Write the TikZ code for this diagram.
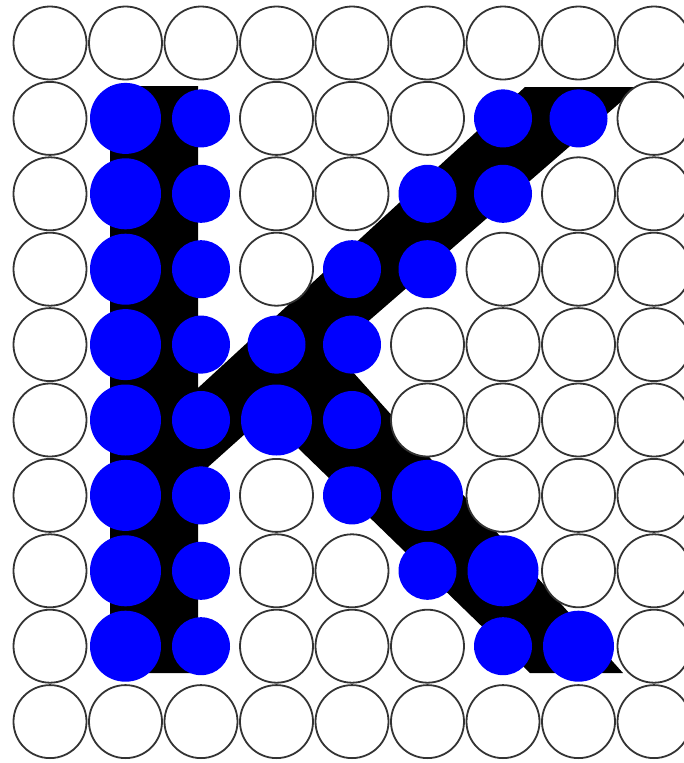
\documentclass[tikz,border=0pt]{standalone}

\begin{document}
\begin{tikzpicture}[
    x=1pt, y=-1pt,
    celda/.style={circle, draw=black!80, line width=1.8pt, fill=white,
                  minimum size=73pt, inner sep=0pt},
    grande/.style={circle, fill=blue, minimum size=71pt, inner sep=0pt},
    chico/.style={circle, fill=blue, minimum size=58pt, inner sep=0pt},
    trazo/.style={fill=black}
  ]

  % Fondo y marco
  \fill[white] (0,0) rectangle (684,763);
  \useasboundingbox (0,0) rectangle (684,763);
  \clip (0,0) rectangle (684,763);

  % Letra K
  \fill[trazo] (110,86) -- (198,86) -- (198,388) -- (525,87) -- (638,87)
     -- (334,351) -- (623,673) -- (530,673) -- (265,416) -- (198,476)
     -- (198,673) -- (110,673) -- cycle;

  % Celdas vacias (fila / columnas)
  \foreach \j/\cols in {0/{0,...,8}, 1/{0,3,4,5,8}, 2/{0,3,4,7,8},
                        3/{0,3,6,7,8}, 4/{0,5,6,7,8}, 5/{0,5,6,7,8},
                        6/{0,3,6,7,8}, 7/{0,3,4,7,8}, 8/{0,3,4,5,8},
                        9/{0,...,8}}
    \foreach \i in \cols
      \node[celda] (c-\i-\j) at (50+75.5*\i, 43+75.4*\j) {};

  % Puntos grandes
  \foreach \i/\j in {1/1, 1/2, 1/3, 1/4, 1/5, 1/6, 1/7, 1/8,
                     3/5, 5/6, 6/7, 7/8}
    \node[grande] (g-\i-\j) at (50+75.5*\i, 43+75.4*\j) {};

  % Puntos chicos
  \foreach \i/\j in {2/1, 2/2, 2/3, 2/4, 2/5, 2/6, 2/7, 2/8,
                     6/1, 7/1, 5/2, 6/2, 4/3, 5/3, 3/4, 4/4,
                     4/5, 4/6, 5/7, 6/8}
    \node[chico] (p-\i-\j) at (50+75.5*\i, 43+75.4*\j) {};

\end{tikzpicture}
\end{document}
